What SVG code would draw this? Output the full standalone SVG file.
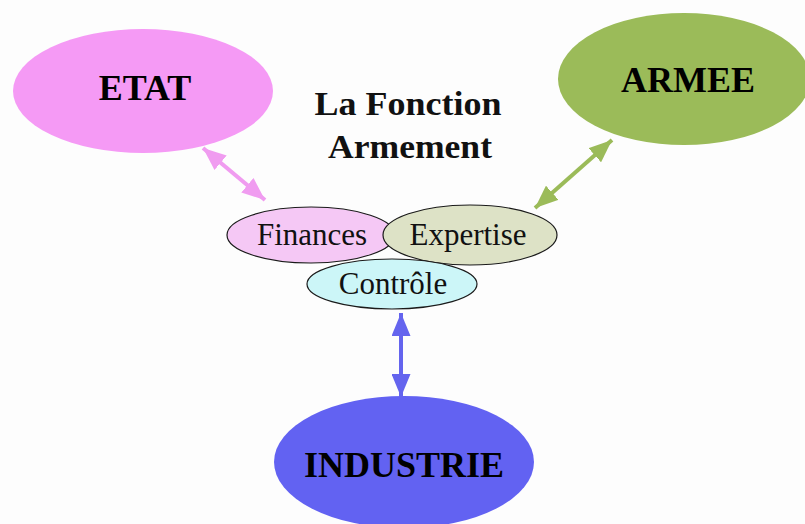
<svg xmlns="http://www.w3.org/2000/svg" width="805" height="524" viewBox="0 0 805 524">
  <style>
    .big { font-family: "Liberation Serif", "Times New Roman", serif; font-weight: bold; font-size: 36px; fill: #000; text-anchor: middle; }
    .title { font-family: "Liberation Serif", "Times New Roman", serif; font-weight: bold; font-size: 34px; fill: #111; text-anchor: middle; }
    .small { font-family: "Liberation Serif", "Times New Roman", serif; font-size: 31px; fill: #111; text-anchor: middle; }
    .sub { stroke: #1a1a1a; stroke-width: 1.2; }
    .link { fill: none; stroke-width: 4; }
  </style>
  <defs>
    <marker id="headPink" viewBox="0 0 23 19" refX="23" refY="9.5" markerWidth="23" markerHeight="19" markerUnits="userSpaceOnUse" orient="auto-start-reverse">
      <path d="M0,0 L23,9.5 L0,19 Z" fill="#f09cf0"/>
    </marker>
    <marker id="headGreen" viewBox="0 0 23 19" refX="23" refY="9.5" markerWidth="23" markerHeight="19" markerUnits="userSpaceOnUse" orient="auto-start-reverse">
      <path d="M0,0 L23,9.5 L0,19 Z" fill="#9bbb59"/>
    </marker>
    <marker id="headBlue" viewBox="0 0 23 19" refX="23" refY="9.5" markerWidth="23" markerHeight="19" markerUnits="userSpaceOnUse" orient="auto-start-reverse">
      <path d="M0,0 L23,9.5 L0,19 Z" fill="#6464ee"/>
    </marker>
  </defs>

  <rect width="805" height="524" fill="#fdfdfd"/>

  <g id="etat">
    <ellipse cx="143" cy="91" rx="130" ry="62" fill="#f59af5"/>
    <text class="big" x="145" y="100">ETAT</text>
  </g>

  <g id="armee">
    <ellipse cx="684" cy="79" rx="126" ry="66" fill="#9bbb59"/>
    <text class="big" x="688" y="92">ARMEE</text>
  </g>

  <g id="industrie">
    <ellipse cx="404" cy="462" rx="130" ry="66" fill="#6262f2"/>
    <text class="big" x="404" y="477" font-size="37">INDUSTRIE</text>
  </g>

  <g id="titre">
    <text class="title" x="408" y="115" textLength="187" lengthAdjust="spacingAndGlyphs">La Fonction</text>
    <text class="title" x="410" y="158" textLength="164" lengthAdjust="spacingAndGlyphs">Armement</text>
  </g>

  <g id="finances">
    <ellipse class="sub" cx="311" cy="235" rx="84" ry="28" fill="#f5c8f5"/>
    <text class="small" x="312" y="245">Finances</text>
  </g>

  <g id="expertise">
    <ellipse class="sub" cx="470" cy="235" rx="87" ry="30" fill="#dde2c6"/>
    <text class="small" x="468" y="245">Expertise</text>
  </g>

  <g id="controle">
    <ellipse class="sub" cx="392" cy="284" rx="85" ry="25" fill="#ccf6f8"/>
    <text class="small" x="393" y="294">Contrôle</text>
  </g>

  <g id="connectors">
    <line class="link" x1="203" y1="148" x2="265" y2="200" stroke="#f09cf0" marker-start="url(#headPink)" marker-end="url(#headPink)"/>
    <line class="link" x1="612" y1="140" x2="535" y2="208" stroke="#9bbb59" marker-start="url(#headGreen)" marker-end="url(#headGreen)"/>
    <line class="link" x1="401" y1="313" x2="401" y2="397" stroke="#6464ee" marker-start="url(#headBlue)" marker-end="url(#headBlue)"/>
  </g>
</svg>
